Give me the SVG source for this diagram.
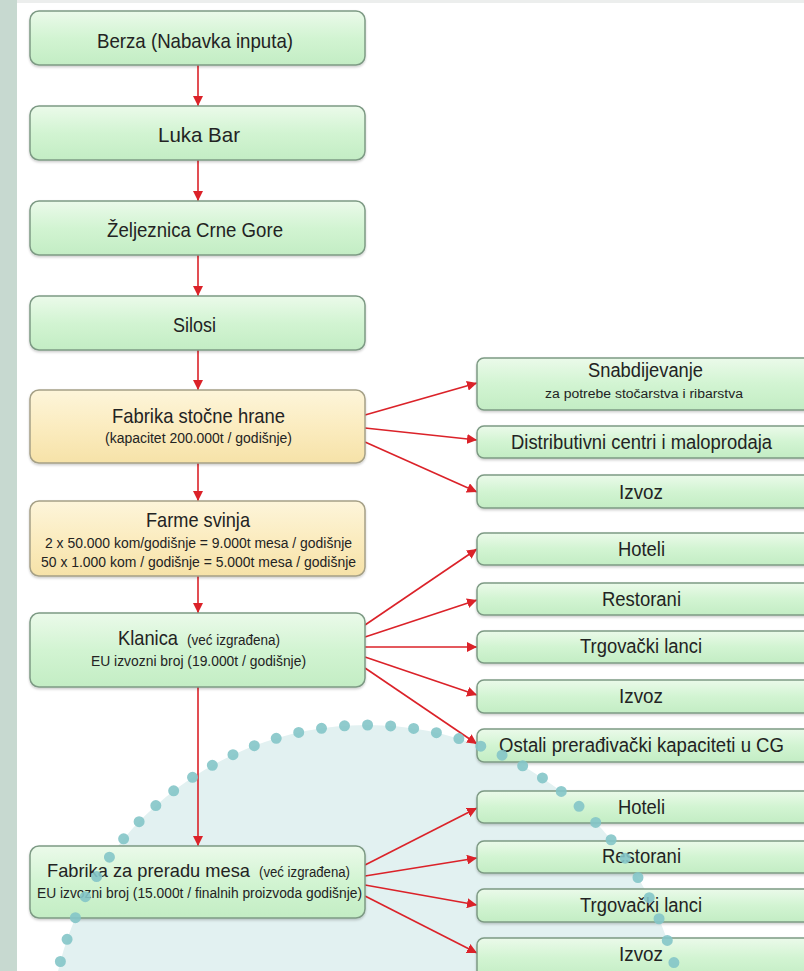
<svg xmlns="http://www.w3.org/2000/svg" width="804" height="971" viewBox="0 0 804 971">
<style>
  .t { font-family: "Liberation Sans", Arial, sans-serif; fill: #232323; }
  .m { font-size: 21px; }
  .r { font-size: 20px; }
  .p { font-size: 19px; }
  .s { font-size: 14px; }
  .xs { font-size: 12px; }
  .g { fill: url(#gg); stroke: #7d9a84; stroke-width: 1.5; }
  .y { fill: url(#yg); stroke: #a5a086; stroke-width: 1.5; }
  .c { stroke: #db2229; stroke-width: 1.6; fill: none; marker-end: url(#ah); }
</style>
<defs>
  <linearGradient id="gg" x1="0" y1="0" x2="0" y2="1">
    <stop offset="0" stop-color="#ebfaea"/>
    <stop offset="0.5" stop-color="#d2f4d2"/>
    <stop offset="1" stop-color="#c3edc4"/>
  </linearGradient>
  <linearGradient id="yg" x1="0" y1="0" x2="0" y2="1">
    <stop offset="0" stop-color="#fdf5da"/>
    <stop offset="0.5" stop-color="#fbecc0"/>
    <stop offset="1" stop-color="#f6e2a8"/>
  </linearGradient>
  <marker id="ah" markerUnits="userSpaceOnUse" markerWidth="11" markerHeight="10" refX="10" refY="5" orient="auto">
    <path d="M0,0 L10,5 L0,10 z" fill="#db2229"/>
  </marker>
  <filter id="sh" x="-5%" y="-10%" width="110%" height="130%">
    <feDropShadow dx="0" dy="1.5" stdDeviation="1.2" flood-color="#000" flood-opacity="0.2"/>
  </filter>
</defs>

<rect x="0" y="0" width="804" height="971" fill="#ffffff"/>
<rect x="0" y="0" width="17" height="971" fill="#c7d9d0"/>
<rect x="17" y="0" width="787" height="3" fill="#eceeed"/>

<circle id="ring-fill" cx="367" cy="1042" r="317" fill="#e2f1f1"/>

<g id="connectors">
  <line class="c" x1="198" y1="65" x2="198" y2="106"/>
  <line class="c" x1="198" y1="160" x2="198" y2="201"/>
  <line class="c" x1="198" y1="255" x2="198" y2="296"/>
  <line class="c" x1="198" y1="350" x2="198" y2="390"/>
  <line class="c" x1="198" y1="463" x2="198" y2="501"/>
  <line class="c" x1="198" y1="576" x2="198" y2="613"/>
  <line class="c" x1="198" y1="687" x2="198" y2="846"/>
  <line class="c" x1="365" y1="415" x2="477" y2="383"/>
  <line class="c" x1="365" y1="428" x2="477" y2="440"/>
  <line class="c" x1="365" y1="442" x2="477" y2="492"/>
  <line class="c" x1="365" y1="625" x2="477" y2="549"/>
  <line class="c" x1="365" y1="637" x2="477" y2="600"/>
  <line class="c" x1="365" y1="647" x2="477" y2="647"/>
  <line class="c" x1="365" y1="657" x2="477" y2="695"/>
  <line class="c" x1="365" y1="668" x2="477" y2="744"/>
  <line class="c" x1="365" y1="865" x2="477" y2="808"/>
  <line class="c" x1="365" y1="876" x2="477" y2="858"/>
  <line class="c" x1="365" y1="885" x2="477" y2="905"/>
  <line class="c" x1="365" y1="896" x2="477" y2="953"/>
</g>

<g id="berza">
  <rect class="g" x="30" y="11" width="335" height="54" rx="9" filter="url(#sh)"/>
  <text class="t m" x="97" y="48" textLength="196" lengthAdjust="spacingAndGlyphs">Berza (Nabavka inputa)</text>
</g>
<g id="luka-bar">
  <rect class="g" x="30" y="106" width="335" height="54" rx="9" filter="url(#sh)"/>
  <text class="t m" x="158" y="142" textLength="82" lengthAdjust="spacingAndGlyphs">Luka Bar</text>
</g>
<g id="zeljeznica">
  <rect class="g" x="30" y="201" width="335" height="54" rx="9" filter="url(#sh)"/>
  <text class="t m" x="107" y="237" textLength="176" lengthAdjust="spacingAndGlyphs">Željeznica Crne Gore</text>
</g>
<g id="silosi">
  <rect class="g" x="30" y="296" width="335" height="54" rx="9" filter="url(#sh)"/>
  <text class="t m" x="173" y="332" textLength="43" lengthAdjust="spacingAndGlyphs">Silosi</text>
</g>
<g id="fabrika-hrane">
  <rect class="y" x="30" y="390" width="335" height="73" rx="9" filter="url(#sh)"/>
  <text class="t m" x="112" y="423" textLength="173" lengthAdjust="spacingAndGlyphs">Fabrika stočne hrane</text>
  <text class="t s" x="105" y="443" textLength="187" lengthAdjust="spacingAndGlyphs">(kapacitet 200.000t / godišnje)</text>
</g>
<g id="farme">
  <rect class="y" x="30" y="501" width="335" height="75" rx="9" filter="url(#sh)"/>
  <text class="t m" x="146" y="527" textLength="104" lengthAdjust="spacingAndGlyphs">Farme svinja</text>
  <text class="t s" x="45" y="548" textLength="307" lengthAdjust="spacingAndGlyphs">2 x 50.000 kom/godišnje = 9.000t mesa / godišnje</text>
  <text class="t s" x="41" y="567" textLength="315" lengthAdjust="spacingAndGlyphs">50 x 1.000 kom / godišnje = 5.000t mesa / godišnje</text>
</g>
<g id="klanica">
  <rect class="g" x="30" y="613" width="335" height="74" rx="9" filter="url(#sh)"/>
  <text class="t" y="645"><tspan class="m" x="118" textLength="60" lengthAdjust="spacingAndGlyphs">Klanica</tspan><tspan class="s" x="187" textLength="93" lengthAdjust="spacingAndGlyphs">(već izgrađena)</tspan></text>
  <text class="t s" x="91" y="666" textLength="215" lengthAdjust="spacingAndGlyphs">EU izvozni broj (19.000t / godišnje)</text>
</g>
<g id="prerada">
  <rect class="g" x="30" y="846" width="335" height="72" rx="9" filter="url(#sh)"/>
  <text class="t" y="877"><tspan class="p" x="47" textLength="203" lengthAdjust="spacingAndGlyphs">Fabrika za preradu mesa</tspan><tspan class="s" x="259" textLength="91" lengthAdjust="spacingAndGlyphs">(već izgrađena)</tspan></text>
  <text class="t s" x="37" y="898" textLength="325" lengthAdjust="spacingAndGlyphs">EU izvozni broj (15.000t / finalnih proizvoda godišnje)</text>
</g>

<g id="snabdijevanje">
  <rect class="g" x="477" y="358" width="340" height="52" rx="7" filter="url(#sh)"/>
  <text class="t r" x="588" y="377" textLength="115" lengthAdjust="spacingAndGlyphs">Snabdijevanje</text>
  <text class="t xs" x="545" y="398" textLength="198" lengthAdjust="spacingAndGlyphs">za potrebe stočarstva i ribarstva</text>
</g>
<g id="distributivni">
  <rect class="g" x="477" y="426" width="340" height="32" rx="7" filter="url(#sh)"/>
  <text class="t r" x="511" y="449" textLength="261" lengthAdjust="spacingAndGlyphs">Distributivni centri i maloprodaja</text>
</g>
<g id="izvoz-1">
  <rect class="g" x="477" y="475" width="340" height="33" rx="7" filter="url(#sh)"/>
  <text class="t r" x="619" y="499" textLength="44" lengthAdjust="spacingAndGlyphs">Izvoz</text>
</g>
<g id="hoteli-1">
  <rect class="g" x="477" y="533" width="340" height="32" rx="7" filter="url(#sh)"/>
  <text class="t r" x="618" y="556" textLength="47" lengthAdjust="spacingAndGlyphs">Hoteli</text>
</g>
<g id="restorani-1">
  <rect class="g" x="477" y="583" width="340" height="32" rx="7" filter="url(#sh)"/>
  <text class="t r" x="602" y="606" textLength="79" lengthAdjust="spacingAndGlyphs">Restorani</text>
</g>
<g id="trgovacki-1">
  <rect class="g" x="477" y="631" width="340" height="32" rx="7" filter="url(#sh)"/>
  <text class="t r" x="580" y="653" textLength="122" lengthAdjust="spacingAndGlyphs">Trgovački lanci</text>
</g>
<g id="izvoz-2">
  <rect class="g" x="477" y="680" width="340" height="33" rx="7" filter="url(#sh)"/>
  <text class="t r" x="619" y="703" textLength="44" lengthAdjust="spacingAndGlyphs">Izvoz</text>
</g>
<g id="ostali">
  <rect class="g" x="477" y="729" width="340" height="33" rx="7" filter="url(#sh)"/>
  <text class="t r" x="499" y="752" textLength="285" lengthAdjust="spacingAndGlyphs">Ostali prerađivački kapaciteti u CG</text>
</g>
<g id="hoteli-2">
  <rect class="g" x="477" y="791" width="340" height="32" rx="7" filter="url(#sh)"/>
  <text class="t r" x="618" y="814" textLength="47" lengthAdjust="spacingAndGlyphs">Hoteli</text>
</g>
<g id="restorani-2">
  <rect class="g" x="477" y="841" width="340" height="32" rx="7" filter="url(#sh)"/>
  <text class="t r" x="602" y="863" textLength="79" lengthAdjust="spacingAndGlyphs">Restorani</text>
</g>
<g id="trgovacki-2">
  <rect class="g" x="477" y="889" width="340" height="33" rx="7" filter="url(#sh)"/>
  <text class="t r" x="580" y="912" textLength="122" lengthAdjust="spacingAndGlyphs">Trgovački lanci</text>
</g>
<g id="izvoz-3">
  <rect class="g" x="477" y="938" width="340" height="40" rx="7" filter="url(#sh)"/>
  <text class="t r" x="619" y="961" textLength="44" lengthAdjust="spacingAndGlyphs">Izvoz</text>
</g>

<circle id="ring-dots" cx="367" cy="1042" r="317" fill="none" stroke="#84c5c8" stroke-width="11" stroke-linecap="round" stroke-dasharray="0 23.16" stroke-dashoffset="11.6" opacity="0.9"/>
</svg>
